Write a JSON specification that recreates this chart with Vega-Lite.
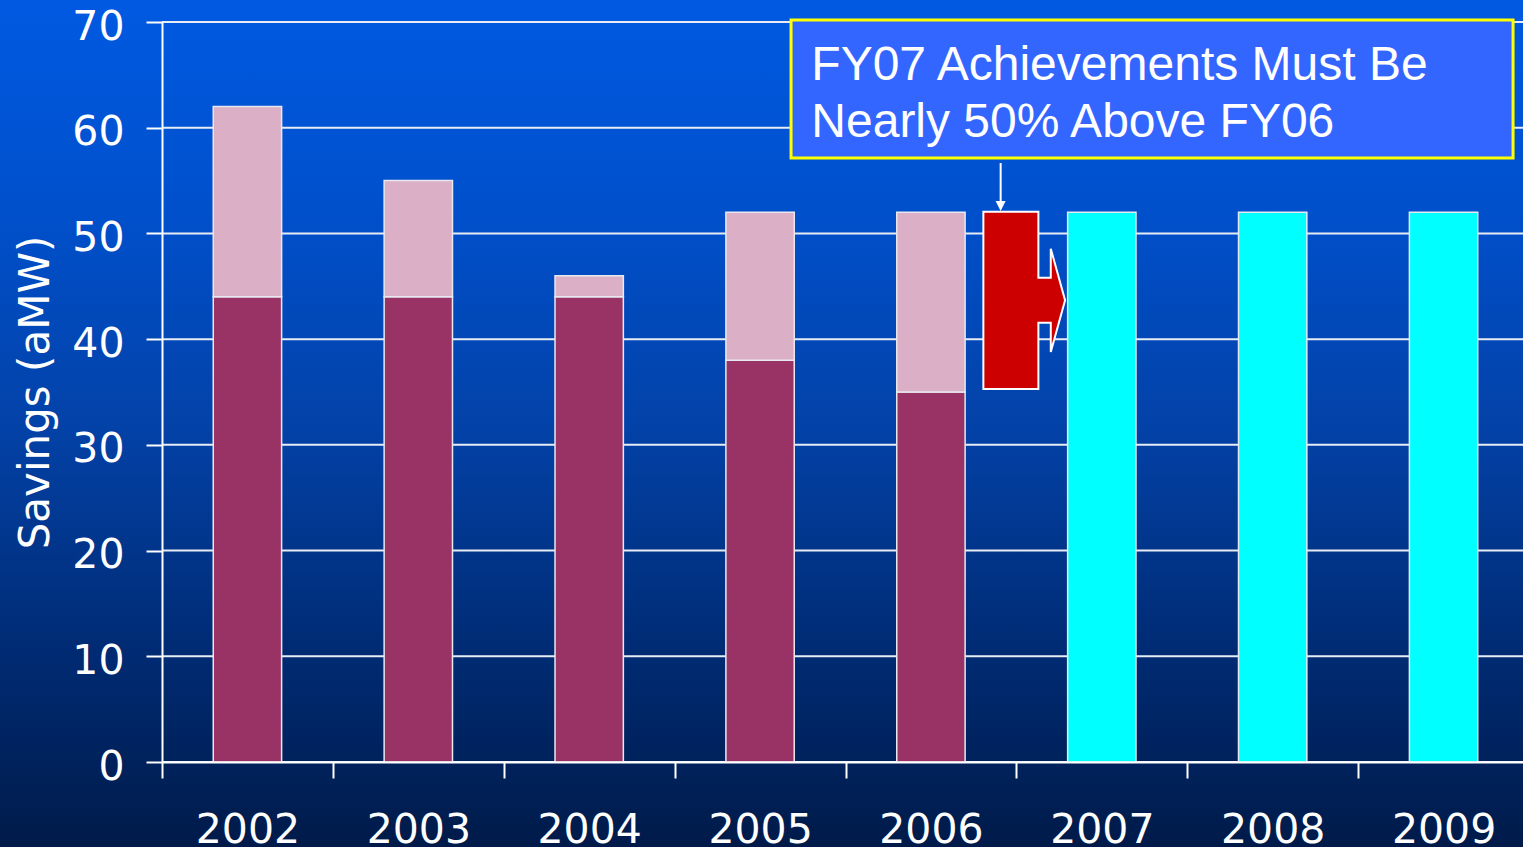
{
  "$schema": "https://vega.github.io/schema/vega-lite/v6.json",
  "width": 1361,
  "height": 740,
  "autosize": {"type": "none"},
  "padding": {"left": 162, "top": 22, "right": 0, "bottom": 85},
  "background": "#003a9c",
  "config": {
    "view": {"stroke": null},
    "font": "DejaVu Sans",
    "axis": {
      "grid": false,
      "domainColor": "#ffffff",
      "domainWidth": 2,
      "tickColor": "#ffffff",
      "tickWidth": 2,
      "tickSize": 16,
      "labelColor": "#ffffff",
      "labelFont": "DejaVu Sans",
      "labelFontSize": 41,
      "titleColor": "#ffffff",
      "titleFont": "DejaVu Sans",
      "titleFontSize": 42,
      "titleFontWeight": "normal"
    }
  },
  "datasets": {
    "bars": [
      {"year": "2002", "achieved": 44, "total": 62},
      {"year": "2003", "achieved": 44, "total": 55},
      {"year": "2004", "achieved": 44, "total": 46},
      {"year": "2005", "achieved": 38, "total": 52},
      {"year": "2006", "achieved": 35, "total": 52},
      {"year": "2007", "target": 52},
      {"year": "2008", "target": 52},
      {"year": "2009", "target": 52}
    ],
    "grid": [{"v": 0}, {"v": 10}, {"v": 20}, {"v": 30}, {"v": 40}, {"v": 50}, {"v": 60}, {"v": 70}],
    "bg": [{"k": 1}]
  },
  "layer": [
    {
      "data": {"name": "bg"},
      "mark": {
        "type": "rect",
        "fill": {
          "gradient": "linear",
          "x1": 0, "y1": 0, "x2": 0, "y2": 1,
          "stops": [
            {"offset": 0, "color": "#005ae2"},
            {"offset": 0.25, "color": "#0050cc"},
            {"offset": 0.5, "color": "#0342a8"},
            {"offset": 0.75, "color": "#002c76"},
            {"offset": 1, "color": "#001a48"}
          ]
        }
      },
      "encoding": {
        "x": {"datum": -0.125, "type": "quantitative", "scale": {"domain": [0, 1], "nice": false, "zero": false}, "axis": null},
        "x2": {"datum": 1.01},
        "y": {"datum": -0.125, "type": "quantitative", "scale": {"domain": [0, 1], "nice": false, "zero": false}, "axis": null},
        "y2": {"datum": 1.04}
      }
    },
    {
      "layer": [
        {
          "data": {"name": "grid"},
          "mark": {"type": "rule", "color": "#e8ecf4", "strokeWidth": 2},
          "encoding": {
            "y": {"field": "v", "type": "quantitative", "scale": {"domain": [0, 70], "nice": false}}
          }
        },
        {
          "data": {"name": "bars"},
          "mark": {"type": "bar", "fill": "#993366", "stroke": "#e8e8f0", "strokeWidth": 1.5, "width": {"band": 0.4}},
          "encoding": {
            "x": {
              "field": "year", "type": "nominal",
              "scale": {"domain": ["2002", "2003", "2004", "2005", "2006", "2007", "2008", "2009"], "paddingInner": 0, "paddingOuter": 0, "range": [0, 1367]},
              "axis": {"title": null, "labelAngle": 0, "tickBand": "extent", "labelPadding": 32, "labelBaseline": "top", "zindex": 2}
            },
            "y": {
              "field": "achieved", "type": "quantitative",
              "scale": {"domain": [0, 70], "nice": false},
              "axis": {"title": "Savings  (aMW)", "values": [0, 10, 20, 30, 40, 50, 60, 70], "labelPadding": 22, "titlePadding": 14, "labelOffset": 5, "zindex": 2}
            }
          }
        },
        {
          "data": {"name": "bars"},
          "mark": {"type": "bar", "fill": "#dbafc6", "stroke": "#e8e8f0", "strokeWidth": 1.5, "width": {"band": 0.4}},
          "encoding": {
            "x": {"field": "year", "type": "nominal"},
            "y": {"field": "achieved", "type": "quantitative"},
            "y2": {"field": "total"}
          }
        },
        {
          "data": {"name": "bars"},
          "mark": {"type": "bar", "fill": "#00ffff", "stroke": "#e8e8f0", "strokeWidth": 1.5, "width": {"band": 0.4}},
          "encoding": {
            "x": {"field": "year", "type": "nominal"},
            "y": {"field": "target", "type": "quantitative"}
          }
        },
        {
          "data": {"name": "bg"},
          "mark": {
            "type": "point",
            "shape": "M-0.33,-0.886L0.22,-0.886L0.22,-0.225L0.344,-0.225L0.344,-0.517L0.487,0L0.344,0.517L0.344,0.225L0.22,0.225L0.22,0.886L-0.33,0.886Z",
            "size": 40000,
            "filled": true,
            "fill": "#cc0000",
            "stroke": "#ffffff",
            "strokeWidth": 2,
            "opacity": 1
          },
          "encoding": {
            "x": {"datum": "2006", "type": "nominal", "bandPosition": 1},
            "y": {"datum": 43.67, "type": "quantitative"}
          }
        },
        {
          "data": {"name": "bg"},
          "mark": {"type": "rule", "color": "#ffffff", "strokeWidth": 2},
          "encoding": {
            "x": {"datum": "2006", "type": "nominal", "bandPosition": 0.908},
            "y": {"datum": 56.66, "type": "quantitative"},
            "y2": {"datum": 53.0}
          }
        },
        {
          "data": {"name": "bg"},
          "mark": {
            "type": "point",
            "shape": "M-0.5,-1L0.5,-1L0,0Z",
            "size": 400,
            "filled": true,
            "fill": "#ffffff",
            "opacity": 1
          },
          "encoding": {
            "x": {"datum": "2006", "type": "nominal", "bandPosition": 0.908},
            "y": {"datum": 52.12, "type": "quantitative"}
          }
        },
        {
          "data": {"name": "bg"},
          "mark": {
            "type": "point",
            "shape": "M-1,-0.1911L1,-0.1911L1,0.1911L-1,0.1911Z",
            "size": 521284,
            "filled": true,
            "fill": "#3366ff",
            "stroke": "#ffff00",
            "strokeWidth": 3,
            "opacity": 1
          },
          "encoding": {
            "x": {"datum": "2007", "type": "nominal", "bandPosition": 0.794},
            "y": {"datum": 63.66, "type": "quantitative"}
          }
        },
        {
          "data": {"name": "bg"},
          "mark": {
            "type": "text",
            "text": ["FY07 Achievements Must Be", "Nearly 50% Above FY06"],
            "font": "Liberation Sans",
            "fontSize": 48,
            "lineHeight": 57,
            "align": "left",
            "baseline": "alphabetic",
            "color": "#ffffff"
          },
          "encoding": {
            "x": {"datum": "2005", "type": "nominal", "bandPosition": 0.8},
            "y": {"datum": 64.52, "type": "quantitative"}
          }
        }
      ]
    }
  ],
  "resolve": {"scale": {"x": "independent", "y": "independent"}}
}
